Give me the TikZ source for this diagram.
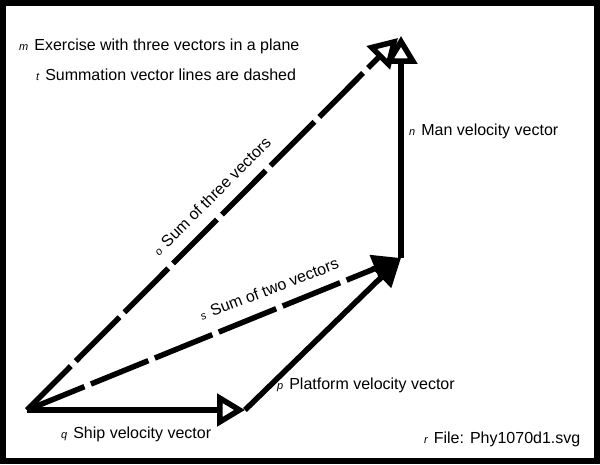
\documentclass[tikz,border=0pt]{standalone}
\usepackage{fontspec}
\setmainfont{Liberation Sans}
\usetikzlibrary{arrows.meta,calc}

\begin{document}
\begin{tikzpicture}[x=1pt,y=1pt]

  % Parameters
  \def\vw{5.5pt}

  % Styles
  \tikzstyle{vec}=[line width=\vw,-{Triangle[open,length=28pt,width=32pt,line width=\vw]}]
  \tikzstyle{fullvec}=[line width=\vw,-{Triangle[length=28pt,width=28pt]}]
  \tikzstyle{sumvec}=[dash pattern=on 62pt off 7pt]
  \tikzstyle{lbl}=[inner sep=0pt,anchor=base west,font=\fontsize{16}{19}\selectfont]

  % \vlet{<letter>}
  \newcommand{\vlet}[1]{{\fontsize{11}{13}\selectfont\itshape #1}\hspace{6pt}}

  % ===========================================================================

  % Frame
  \fill[black] (0,0) rectangle (600,464);
  \fill[white] (6,6) rectangle (594,458);
  \useasboundingbox (0,0) rectangle (600,464);

  % Points
  \coordinate (orig) at (27,54);
  \coordinate (ship) at (245,54);
  \coordinate (plat) at (401,206);
  \coordinate (man) at (401,428);

  % Vectors
  \draw[vec] (orig) -- (ship);
  \draw[fullvec] (ship) -- (plat);
  \draw[vec] (plat) -- (man);
  \draw[fullvec,sumvec] (orig) -- (plat);
  \draw[vec,sumvec] (orig) -- ($(man)+(-3,-2)$);

  % Labels
  \node[lbl] (title) at (19,413) {\vlet{m}Exercise with three vectors in a plane};
  \node[lbl] (note) at (36,383) {\vlet{t}Summation vector lines are dashed};
  \node[lbl] (manlbl) at (409,328) {\vlet{n}Man velocity vector};
  \node[lbl,rotate=45] (threelbl) at (159,207) {\vlet{o}Sum of three vectors};
  \node[lbl,rotate=21] (twolbl) at (202,143) {\vlet{s}Sum of two vectors};
  \node[lbl] (platlbl) at (277,75) {\vlet{p}Platform velocity vector};
  \node[lbl] (shiplbl) at (61,26) {\vlet{q}Ship velocity vector};
  \node[lbl] (filelbl) at (424,21) {\vlet{r}File: Phy1070d1.svg};

\end{tikzpicture}
\end{document}
